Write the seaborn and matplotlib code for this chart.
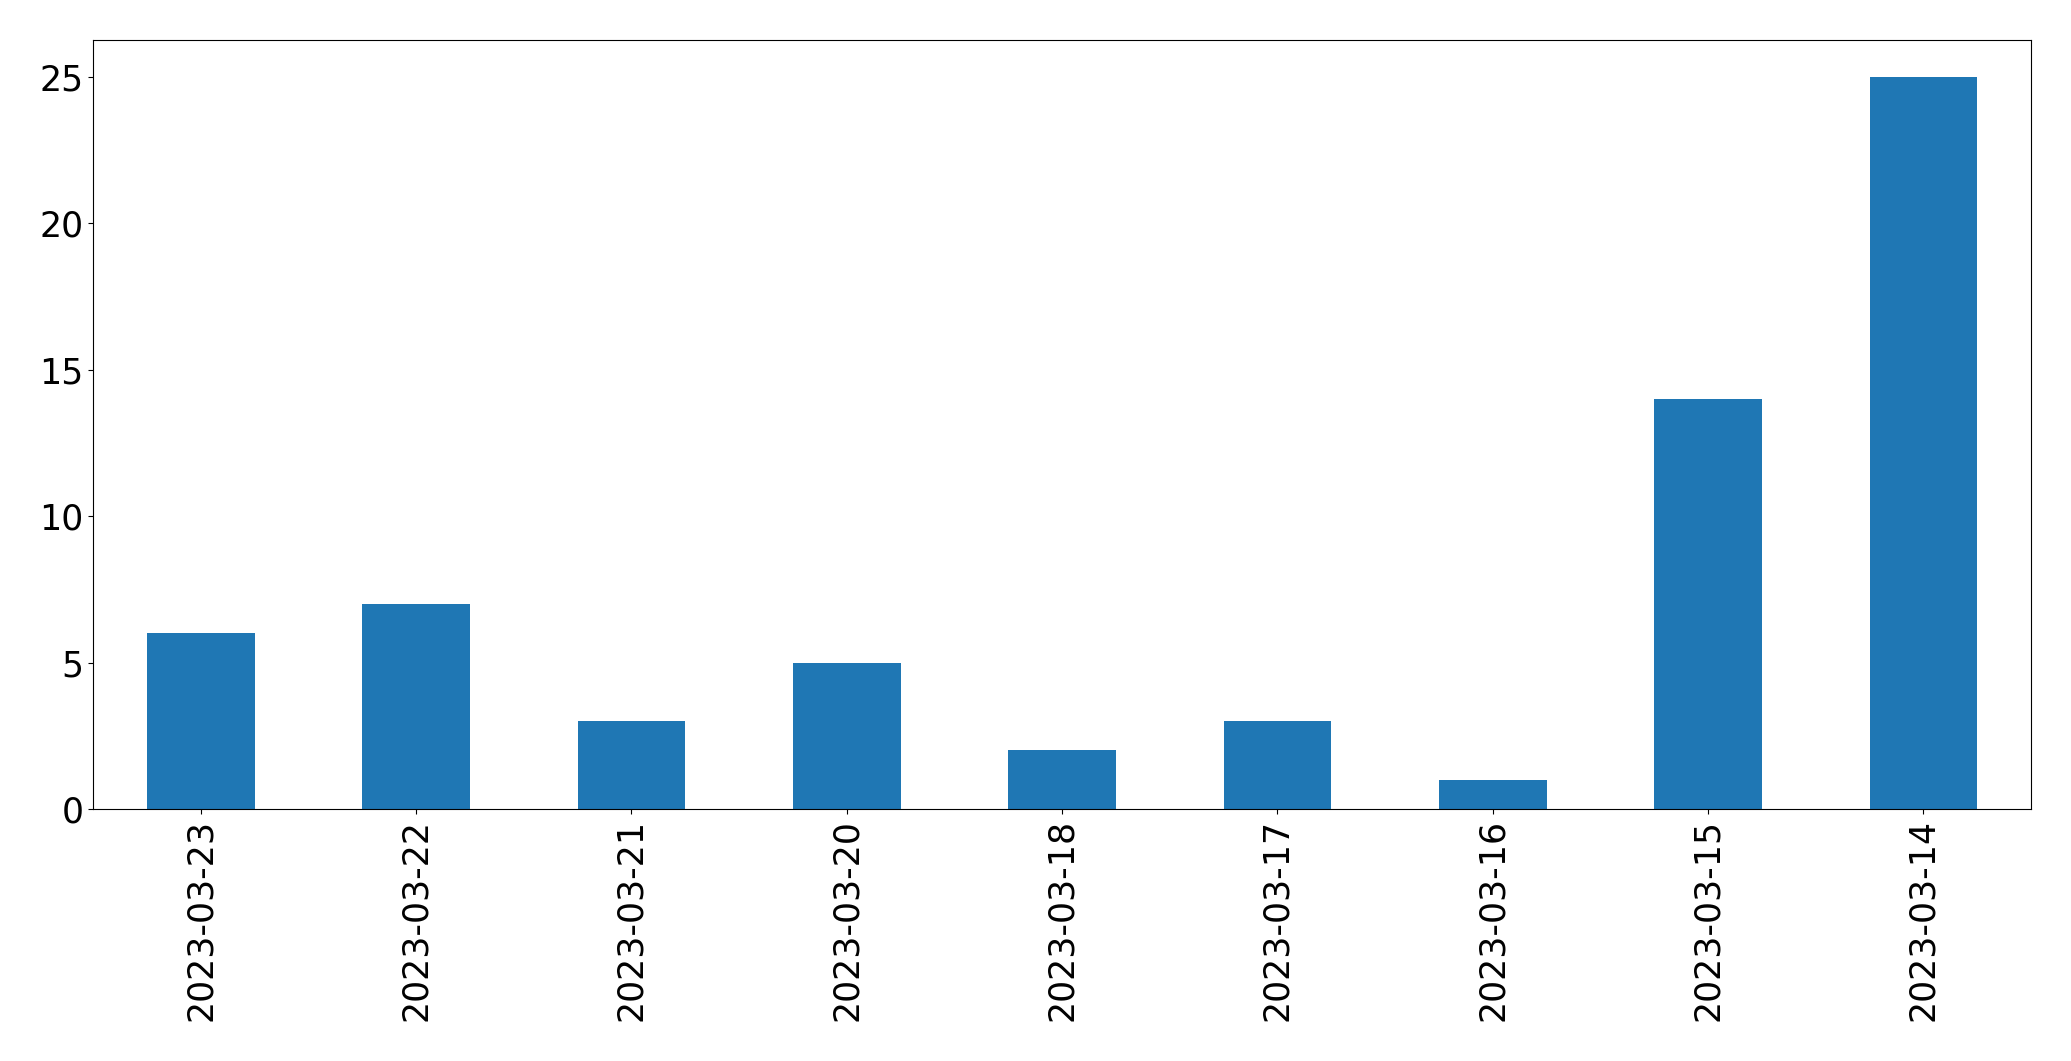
import matplotlib
matplotlib.use("Agg")
import matplotlib.pyplot as plt
import seaborn as sns
import pandas as pd

# valores
fechas = ["2023-03-23", "2023-03-22", "2023-03-21", "2023-03-20", "2023-03-18",
          "2023-03-17", "2023-03-16", "2023-03-15", "2023-03-14"]
conteos = [6, 7, 3, 5, 2, 3, 1, 14, 25]

df = pd.DataFrame({"fecha": fechas, "conteo": conteos})

fig = plt.figure(figsize=(20.71, 10.61), dpi=100)
ax = fig.add_axes([93 / 2071, 1 - 809 / 1061, (2031 - 93) / 2071, (809 - 40) / 1061])

sns.barplot(data=df, x="fecha", y="conteo", order=fechas, color="#1f77b4",
            saturation=1, width=0.5, linewidth=0, ax=ax)

ax.set_xlim(-0.5, len(fechas) - 0.5)
ax.set_xlabel("")
ax.set_ylabel("")
ax.tick_params(axis="both", labelsize=25)
ax.tick_params(axis="x", rotation=90)

fig.savefig("out.png", dpi=100)
